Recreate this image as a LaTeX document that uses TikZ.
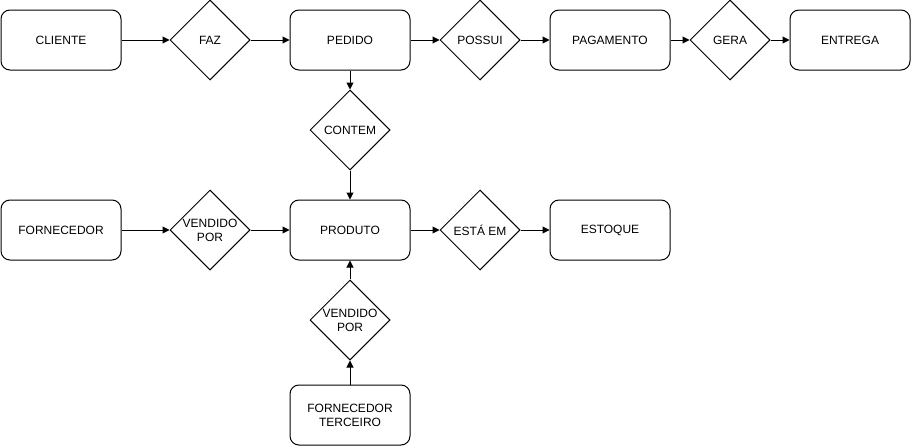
\documentclass[tikz,border=0pt]{standalone}
\usepackage{fontspec}
\setmainfont{Liberation Sans}
\usetikzlibrary{shapes.geometric,arrows.meta}
\begin{document}
\begin{tikzpicture}[x=1pt,y=-1pt,
  ent/.style={draw,rounded corners=9pt,minimum width=120pt,minimum height=60pt,inner sep=0pt,font=\fontsize{12}{14}\selectfont,align=center,line width=1pt},
  rel/.style={draw,diamond,minimum width=80pt,minimum height=80pt,inner sep=0pt,aspect=1,font=\fontsize{12}{14}\selectfont,align=center,line width=1pt},
  conn/.style={line width=1pt,-{Triangle[length=7pt,width=7pt]}}]
\useasboundingbox (0,0) rectangle (911,447);
\node[ent] (cliente) at (61,40) {CLIENTE};
\node[rel] (faz) at (210,40) {FAZ};
\node[ent] (pedido) at (350,40) {PEDIDO};
\node[rel] (possui) at (480,40) {POSSUI};
\node[ent] (pagamento) at (610,40) {PAGAMENTO};
\node[rel] (gera) at (730,40) {GERA};
\node[ent] (entrega) at (850,40) {ENTREGA};
\node[rel] (contem) at (350,130) {CONTEM};
\node[ent] (fornecedor) at (61,230) {FORNECEDOR};
\node[rel] (vendido) at (210,230) {VENDIDO\\POR};
\node[ent] (produto) at (350,230) {PRODUTO};
\node[rel] (esta) at (480,230) {ESTÁ EM};
\node[ent] (estoque) at (610,230) {ESTOQUE};
\node[rel] (vendido2) at (350,320) {VENDIDO\\POR};
\node[ent] (terceiro) at (350,415) {FORNECEDOR\\TERCEIRO};
\draw[conn] (cliente) -- (faz);
\draw[conn] (faz) -- (pedido);
\draw[conn] (pedido) -- (possui);
\draw[conn] (possui) -- (pagamento);
\draw[conn] (pagamento) -- (gera);
\draw[conn] (gera) -- (entrega);
\draw[conn] (pedido) -- (contem);
\draw[conn] (contem) -- (produto);
\draw[conn] (fornecedor) -- (vendido);
\draw[conn] (vendido) -- (produto);
\draw[conn] (produto) -- (esta);
\draw[conn] (esta) -- (estoque);
\draw[conn] (terceiro) -- (vendido2);
\draw[conn] (vendido2) -- (produto);
\end{tikzpicture}
\end{document}
